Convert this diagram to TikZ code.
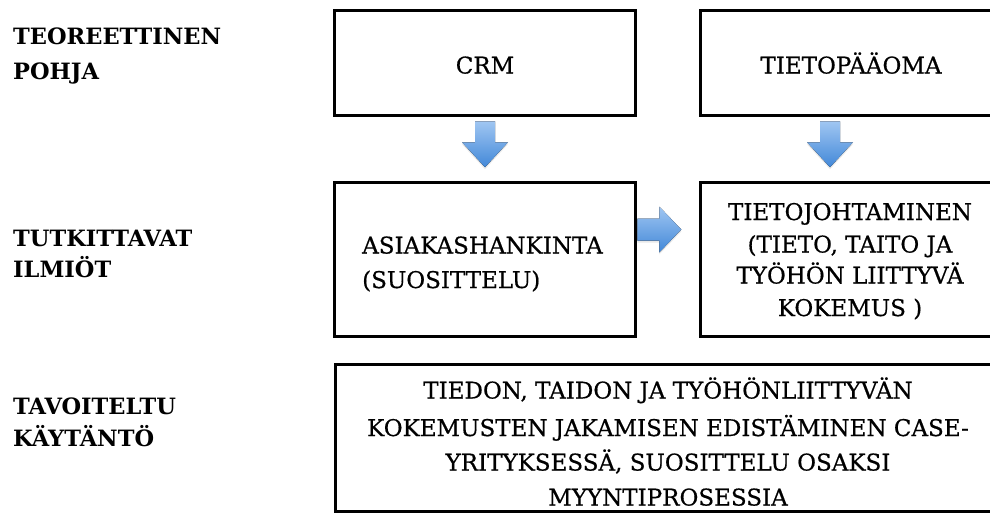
\documentclass[tikz,border=0pt]{standalone}
\usepackage{fontspec}
\setmainfont{DejaVu Serif}
\newfontfamily\boxfont[FakeBold=0.6]{DejaVu Serif}
\usetikzlibrary{calc,shadows}
\definecolor{arrowtop}{RGB}{160,198,242}
\definecolor{arrowbottom}{RGB}{66,136,216}
\begin{document}
\begin{tikzpicture}[x=1pt,y=-1pt,
  box/.style={draw=black, line width=3.5pt, fill=white, inner sep=0pt},
  txt/.style={font=\boxfont\fontsize{23}{28}\selectfont, inner sep=0pt, anchor=base},
  lab/.style={font=\fontsize{22.5}{26}\selectfont\bfseries, inner sep=0pt, anchor=base west},
  arrowfill/.style={top color=arrowtop, bottom color=arrowbottom, draw=none,
    drop shadow={shadow xshift=0pt, shadow yshift=-2pt, opacity=0.18}},
  darrow/.pic={\fill[arrowfill] (-10,0) -- (10,0) -- (10,21) -- (23,21) -- (0,46)
      -- (-23,21) -- (-10,21) -- cycle;},
  rarrow/.pic={\fill[arrowfill] (0,-11) -- (22,-11) -- (22,-23) -- (44,0) -- (22,23)
      -- (22,11) -- (0,11) -- cycle;}
]
\useasboundingbox (0,0) rectangle (990,512);
\clip (0,0) rectangle (990,512);

% row labels
\node[lab] (l1a) at (13,44.2) {TEOREETTINEN};
\node[lab] (l1b) at (13,79.2) {POHJA};
\node[lab] (l2a) at (13,246.2) {TUTKITTAVAT};
\node[lab] (l2b) at (13,277.2) {ILMIÖT};
\node[lab] (l3a) at (13,414.2) {TAVOITELTU};
\node[lab] (l3b) at (13,446.2) {KÄYTÄNTÖ};

% boxes
\node[box, minimum width=301, minimum height=105] (crm) at (485,63) {};
\node[box, minimum width=301, minimum height=105] (tp) at (851,63) {};
\node[box, minimum width=301, minimum height=154] (acq) at (485,259.5) {};
\node[box, minimum width=301, minimum height=154] (tj) at (851,259.5) {};
\node[box, minimum width=667, minimum height=147] (goal) at (669,438) {};

% box texts
\node[txt] (crmt) at (485,73.5) {CRM};
\node[txt] (tpt) at (851,73.5) {TIETOPÄÄOMA};
\node[txt, anchor=base west] (acq1) at (362,253.5) {ASIAKASHANKINTA};
\node[txt, anchor=base west] (acq2) at (362,288) {(SUOSITTELU)};
\node[txt] (tj1) at (850,220) {TIETOJOHTAMINEN};
\node[txt] (tj2) at (850,252.5) {(TIETO, TAITO JA};
\node[txt] (tj3) at (850,283.5) {TYÖHÖN LIITTYVÄ};
\node[txt] (tj4) at (850,316) {KOKEMUS )};
\node[txt] (g1) at (668,398.5) {TIEDON, TAIDON JA TYÖHÖNLIITTYVÄN};
\node[txt] (g2) at (668,436) {KOKEMUSTEN JAKAMISEN EDISTÄMINEN CASE-};
\node[txt] (g3) at (668,470.5) {YRITYKSESSÄ, SUOSITTELU OSAKSI};
\node[txt] (g4) at (668,505.5) {MYYNTIPROSESSIA};

% block arrows between boxes
\coordinate (a1) at ($(crm.south)+(0,4)$);
\coordinate (a2) at ($(tp.south)+(-21,4)$);
\coordinate (a3) at ($(acq.east)+(0,-30)$);
\pic (down1) at (a1) {darrow};
\pic (down2) at (a2) {darrow};
\pic (right1) at (a3) {rarrow};
\end{tikzpicture}
\end{document}
